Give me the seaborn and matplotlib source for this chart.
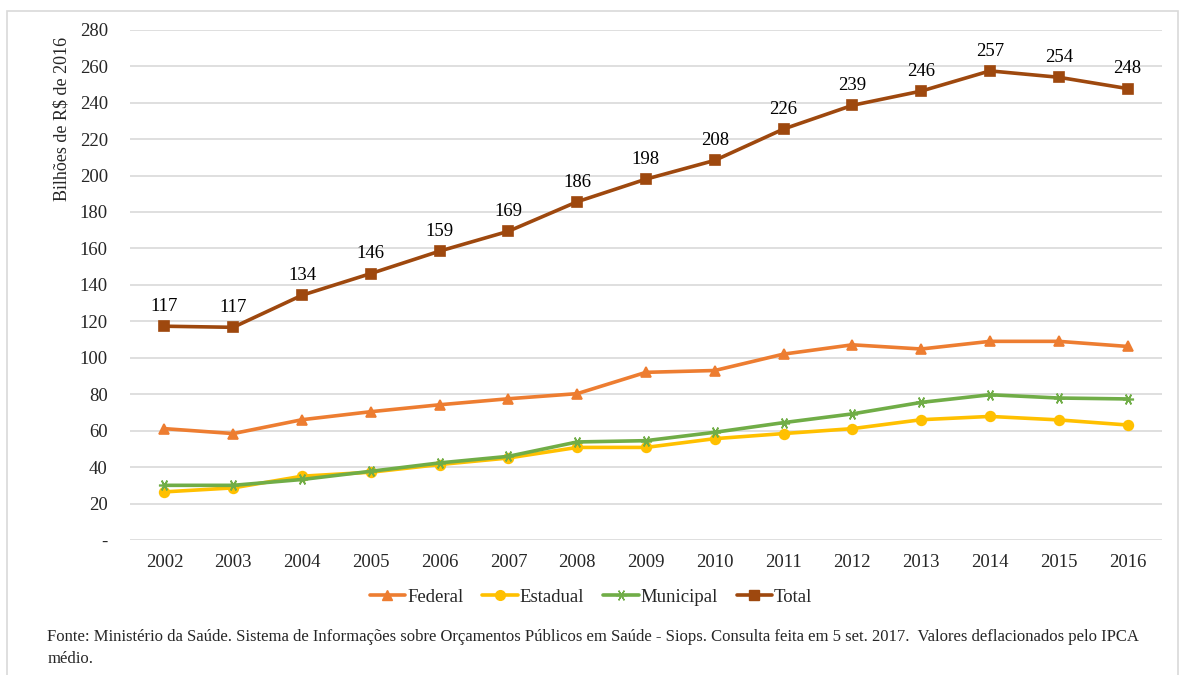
import numpy as np
import pandas as pd
import matplotlib
matplotlib.use("Agg")
import matplotlib.pyplot as plt
from matplotlib.patches import Rectangle
from matplotlib.lines import Line2D
import seaborn as sns

# Data (bilhões de R$ de 2016)
anos = [str(a) for a in range(2002, 2017)]
federal = [61.1, 58.4, 66.0, 70.4, 74.2, 77.5, 80.3, 92.0, 93.0, 102.0, 107.1, 104.8, 109.0, 109.0, 106.2]
estadual = [26.4, 28.6, 35.0, 37.2, 41.4, 45.0, 50.8, 50.8, 55.6, 58.4, 61.1, 66.0, 67.8, 65.9, 63.1]
municipal = [30.0, 30.0, 33.2, 37.7, 42.3, 45.9, 53.8, 54.5, 59.1, 64.4, 69.2, 75.5, 79.7, 77.9, 77.4]
total = [117.3, 116.7, 134.3, 146.2, 158.5, 169.4, 185.6, 198.0, 208.3, 225.5, 238.5, 246.3, 257.4, 253.9, 247.7]
rotulos_total = ["117", "117", "134", "146", "159", "169", "186", "198", "208",
                 "226", "239", "246", "257", "254", "248"]
yticks = list(range(0, 281, 20))
ytick_labels = ["-"] + [str(v) for v in yticks[1:]]

series = {
    "Federal": (federal, "#ED7D31", "^", 7),
    "Estadual": (estadual, "#FFC000", "o", 7),
    "Municipal": (municipal, "#70AD47", (6, 2, 90), 8),
    "Total": (total, "#9E480E", "s", 6.5),
}

sns.set_theme(style="white")
plt.rcParams["font.family"] = ["Liberation Serif", "DejaVu Serif"]

fig = plt.figure(figsize=(11.82, 6.75), dpi=100)
ax = fig.add_axes([0.110, 0.200, 0.873, 0.756])

x = np.arange(len(anos))
handles = []
for nome, (vals, cor, mk, ms) in series.items():
    df = pd.DataFrame({"x": x, "valor": vals})
    sns.lineplot(data=df, x="x", y="valor", ax=ax, color=cor, linewidth=2.6,
                 marker=mk, markersize=ms, markeredgecolor=cor, markerfacecolor=cor,
                 markeredgewidth=1.2, zorder=3)
    handles.append(Line2D([0], [0], color=cor, lw=2.6, marker=mk, markersize=ms,
                          markerfacecolor=cor, markeredgecolor=cor, label=nome))

# rótulos do total
for xi, v, lab in zip(x, total, rotulos_total):
    ax.annotate(lab, (xi, v), xytext=(0, 8), textcoords="offset points",
                ha="center", va="bottom", fontsize=13.5, color="black")

ax.set_xlim(-0.5, len(anos) - 0.5)
ax.set_ylim(0, 280)
ax.set_xticks(x)
ax.set_xticklabels(anos, fontsize=13.5)
ax.set_yticks(yticks)
ax.set_yticklabels(ytick_labels, fontsize=13.5)
ax.tick_params(axis="x", length=0, pad=10)
ax.tick_params(axis="y", length=0, pad=16)
ax.grid(axis="y", color="#D9D9D9", linewidth=1.2)
ax.set_axisbelow(True)
for s in ax.spines.values():
    s.set_visible(False)
ax.set_xlabel("")
ax.set_ylabel("Bilhões de R$ de 2016", fontsize=13, labelpad=4)
ax.yaxis.set_label_coords(-0.058, 0.825)

fig.legend(handles=handles, loc="center", bbox_to_anchor=(0.5, 0.115), ncol=4,
           frameon=False, fontsize=13.5, handlelength=1.9, columnspacing=1.0,
           handletextpad=0.1)

fig.text(0.040, 0.040, "Fonte: Ministério da Saúde. Sistema de Informações sobre Orçamentos Públicos em Saúde - Siops. "
         "Consulta feita em 5 set. 2017.  Valores deflacionados pelo IPCA\nmédio.",
         fontsize=12, ha="left", va="center", linespacing=1.45)

fig.patches.append(Rectangle((7 / 1182, -0.02), 1171 / 1182, 1 - 11 / 675 + 0.02,
                             transform=fig.transFigure, fill=False,
                             edgecolor="#D9D9D9", linewidth=1.2))

fig.savefig("out.png", dpi=100)
